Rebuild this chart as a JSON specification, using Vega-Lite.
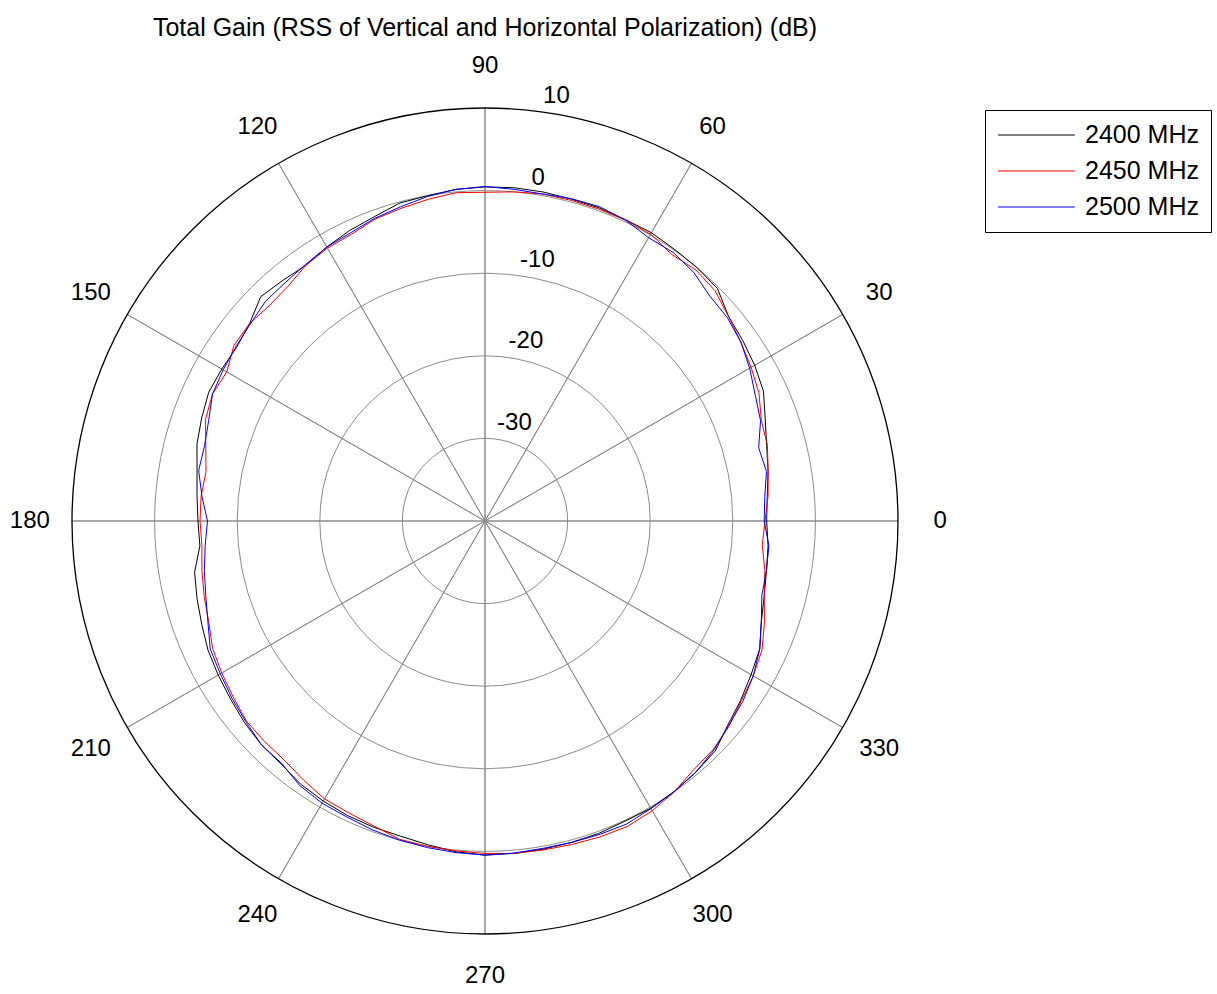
{
  "$schema": "https://vega.github.io/schema/vega-lite/v6.json",
  "width": 826,
  "height": 826,
  "autosize": {"type": "none"},
  "padding": {"left": 72, "top": 108, "right": 319, "bottom": 60},
  "background": "white",
  "config": {"font": "Liberation Sans", "view": {"stroke": null}},
  "title": {"text": "Total Gain (RSS of Vertical and Horizontal Polarization) (dB)", "font": "Liberation Sans", "fontSize": 25, "fontWeight": "normal", "color": "#000000", "anchor": "middle", "frame": "group", "baseline": "alphabetic", "offset": -7},
  "datasets": {
    "rings": [{"g": -30}, {"g": -20}, {"g": -10}, {"g": 0}],
    "outer": [{"g": 10}],
    "spokes": [{"a": 0}, {"a": 30}, {"a": 60}, {"a": 90}, {"a": 120}, {"a": 150}, {"a": 180}, {"a": 210}, {"a": 240}, {"a": 270}, {"a": 300}, {"a": 330}],
    "angleLabels": [{"a": 0, "t": "0"}, {"a": 30, "t": "30"}, {"a": 60, "t": "60"}, {"a": 90, "t": "90"}, {"a": 120, "t": "120"}, {"a": 150, "t": "150"}, {"a": 180, "t": "180"}, {"a": 210, "t": "210"}, {"a": 240, "t": "240"}, {"a": 270, "t": "270"}, {"a": 300, "t": "300"}, {"a": 330, "t": "330"}],
    "ringLabels": [{"g": -30, "t": "-30"}, {"g": -20, "t": "-20"}, {"g": -10, "t": "-10"}, {"g": 0, "t": "0"}, {"g": 10, "t": "10"}],
    "gain": [
      {"f": "2400 MHz", "a": 0, "g": -5.9}, {"f": "2400 MHz", "a": 5, "g": -5.7}, {"f": "2400 MHz", "a": 10, "g": -5.2}, {"f": "2400 MHz", "a": 15, "g": -4.7}, {"f": "2400 MHz", "a": 20, "g": -3.9}, {"f": "2400 MHz", "a": 25, "g": -2.8}, {"f": "2400 MHz", "a": 30, "g": -2.3}, {"f": "2400 MHz", "a": 35, "g": -1.9}, {"f": "2400 MHz", "a": 40, "g": -1.5}, {"f": "2400 MHz", "a": 45, "g": -0.2}, {"f": "2400 MHz", "a": 50, "g": 0.0}, {"f": "2400 MHz", "a": 55, "g": 0.1}, {"f": "2400 MHz", "a": 60, "g": 0.3}, {"f": "2400 MHz", "a": 65, "g": 0.25}, {"f": "2400 MHz", "a": 70, "g": 0.35}, {"f": "2400 MHz", "a": 75, "g": 0.35}, {"f": "2400 MHz", "a": 80, "g": 0.45}, {"f": "2400 MHz", "a": 85, "g": 0.5}, {"f": "2400 MHz", "a": 90, "g": 0.45}, {"f": "2400 MHz", "a": 95, "g": 0.3}, {"f": "2400 MHz", "a": 100, "g": 0.0}, {"f": "2400 MHz", "a": 105, "g": -0.15}, {"f": "2400 MHz", "a": 110, "g": -0.8}, {"f": "2400 MHz", "a": 115, "g": -1.2}, {"f": "2400 MHz", "a": 120, "g": -1.7}, {"f": "2400 MHz", "a": 125, "g": -2.2}, {"f": "2400 MHz", "a": 130, "g": -1.95}, {"f": "2400 MHz", "a": 135, "g": -1.6}, {"f": "2400 MHz", "a": 140, "g": -2.8}, {"f": "2400 MHz", "a": 145, "g": -3.3}, {"f": "2400 MHz", "a": 150, "g": -3.2}, {"f": "2400 MHz", "a": 155, "g": -3.1}, {"f": "2400 MHz", "a": 160, "g": -3.5}, {"f": "2400 MHz", "a": 165, "g": -3.9}, {"f": "2400 MHz", "a": 170, "g": -4.6}, {"f": "2400 MHz", "a": 175, "g": -5.0}, {"f": "2400 MHz", "a": 180, "g": -5.25}, {"f": "2400 MHz", "a": 185, "g": -5.35}, {"f": "2400 MHz", "a": 190, "g": -4.3}, {"f": "2400 MHz", "a": 195, "g": -3.9}, {"f": "2400 MHz", "a": 200, "g": -3.5}, {"f": "2400 MHz", "a": 205, "g": -3.0}, {"f": "2400 MHz", "a": 210, "g": -2.7}, {"f": "2400 MHz", "a": 215, "g": -2.4}, {"f": "2400 MHz", "a": 220, "g": -2.0}, {"f": "2400 MHz", "a": 225, "g": -1.7}, {"f": "2400 MHz", "a": 230, "g": -1.6}, {"f": "2400 MHz", "a": 235, "g": -1.1}, {"f": "2400 MHz", "a": 240, "g": -0.85}, {"f": "2400 MHz", "a": 245, "g": -0.65}, {"f": "2400 MHz", "a": 250, "g": -0.55}, {"f": "2400 MHz", "a": 255, "g": -0.5}, {"f": "2400 MHz", "a": 260, "g": -0.2}, {"f": "2400 MHz", "a": 265, "g": 0.2}, {"f": "2400 MHz", "a": 270, "g": 0.45}, {"f": "2400 MHz", "a": 275, "g": 0.4}, {"f": "2400 MHz", "a": 280, "g": 0.35}, {"f": "2400 MHz", "a": 285, "g": 0.3}, {"f": "2400 MHz", "a": 290, "g": 0.25}, {"f": "2400 MHz", "a": 295, "g": 0.1}, {"f": "2400 MHz", "a": 300, "g": 0.15}, {"f": "2400 MHz", "a": 305, "g": -0.05}, {"f": "2400 MHz", "a": 310, "g": -0.3}, {"f": "2400 MHz", "a": 315, "g": -0.6}, {"f": "2400 MHz", "a": 320, "g": -1.6}, {"f": "2400 MHz", "a": 325, "g": -2.2}, {"f": "2400 MHz", "a": 330, "g": -2.8}, {"f": "2400 MHz", "a": 335, "g": -3.3}, {"f": "2400 MHz", "a": 340, "g": -4.4}, {"f": "2400 MHz", "a": 345, "g": -5.0}, {"f": "2400 MHz", "a": 350, "g": -5.4}, {"f": "2400 MHz", "a": 355, "g": -5.6}, {"f": "2400 MHz", "a": 360, "g": -5.9},
      {"f": "2450 MHz", "a": 0, "g": -6.1}, {"f": "2450 MHz", "a": 5, "g": -5.6}, {"f": "2450 MHz", "a": 10, "g": -5.2}, {"f": "2450 MHz", "a": 15, "g": -4.6}, {"f": "2450 MHz", "a": 20, "g": -4.4}, {"f": "2450 MHz", "a": 25, "g": -3.4}, {"f": "2450 MHz", "a": 30, "g": -2.8}, {"f": "2450 MHz", "a": 35, "g": -2.2}, {"f": "2450 MHz", "a": 40, "g": -1.5}, {"f": "2450 MHz", "a": 45, "g": -0.6}, {"f": "2450 MHz", "a": 50, "g": -0.3}, {"f": "2450 MHz", "a": 55, "g": -0.6}, {"f": "2450 MHz", "a": 60, "g": 0.1}, {"f": "2450 MHz", "a": 65, "g": 0.2}, {"f": "2450 MHz", "a": 70, "g": 0.2}, {"f": "2450 MHz", "a": 75, "g": 0.2}, {"f": "2450 MHz", "a": 80, "g": 0.2}, {"f": "2450 MHz", "a": 85, "g": 0.0}, {"f": "2450 MHz", "a": 90, "g": -0.2}, {"f": "2450 MHz", "a": 95, "g": -0.1}, {"f": "2450 MHz", "a": 100, "g": -0.45}, {"f": "2450 MHz", "a": 105, "g": -0.8}, {"f": "2450 MHz", "a": 110, "g": -1.1}, {"f": "2450 MHz", "a": 115, "g": -1.7}, {"f": "2450 MHz", "a": 120, "g": -1.85}, {"f": "2450 MHz", "a": 125, "g": -2.2}, {"f": "2450 MHz", "a": 130, "g": -2.9}, {"f": "2450 MHz", "a": 135, "g": -3.1}, {"f": "2450 MHz", "a": 140, "g": -2.8}, {"f": "2450 MHz", "a": 145, "g": -2.9}, {"f": "2450 MHz", "a": 150, "g": -3.9}, {"f": "2450 MHz", "a": 155, "g": -3.6}, {"f": "2450 MHz", "a": 160, "g": -4.0}, {"f": "2450 MHz", "a": 165, "g": -5.0}, {"f": "2450 MHz", "a": 170, "g": -5.7}, {"f": "2450 MHz", "a": 175, "g": -5.5}, {"f": "2450 MHz", "a": 180, "g": -5.5}, {"f": "2450 MHz", "a": 185, "g": -5.6}, {"f": "2450 MHz", "a": 190, "g": -5.2}, {"f": "2450 MHz", "a": 195, "g": -4.8}, {"f": "2450 MHz", "a": 200, "g": -4.4}, {"f": "2450 MHz", "a": 205, "g": -3.6}, {"f": "2450 MHz", "a": 210, "g": -3.2}, {"f": "2450 MHz", "a": 215, "g": -2.8}, {"f": "2450 MHz", "a": 220, "g": -2.3}, {"f": "2450 MHz", "a": 225, "g": -2.25}, {"f": "2450 MHz", "a": 230, "g": -2.2}, {"f": "2450 MHz", "a": 235, "g": -1.7}, {"f": "2450 MHz", "a": 240, "g": -1.15}, {"f": "2450 MHz", "a": 245, "g": -1.0}, {"f": "2450 MHz", "a": 250, "g": -0.7}, {"f": "2450 MHz", "a": 255, "g": -0.1}, {"f": "2450 MHz", "a": 260, "g": 0.0}, {"f": "2450 MHz", "a": 265, "g": 0.1}, {"f": "2450 MHz", "a": 270, "g": 0.25}, {"f": "2450 MHz", "a": 275, "g": 0.4}, {"f": "2450 MHz", "a": 280, "g": 0.45}, {"f": "2450 MHz", "a": 285, "g": 0.55}, {"f": "2450 MHz", "a": 290, "g": 0.7}, {"f": "2450 MHz", "a": 295, "g": 0.8}, {"f": "2450 MHz", "a": 300, "g": 0.5}, {"f": "2450 MHz", "a": 305, "g": 0.0}, {"f": "2450 MHz", "a": 310, "g": -0.7}, {"f": "2450 MHz", "a": 315, "g": -0.9}, {"f": "2450 MHz", "a": 320, "g": -1.4}, {"f": "2450 MHz", "a": 325, "g": -2.1}, {"f": "2450 MHz", "a": 330, "g": -2.5}, {"f": "2450 MHz", "a": 335, "g": -3.0}, {"f": "2450 MHz", "a": 340, "g": -4.0}, {"f": "2450 MHz", "a": 345, "g": -5.0}, {"f": "2450 MHz", "a": 350, "g": -5.6}, {"f": "2450 MHz", "a": 355, "g": -6.3}, {"f": "2450 MHz", "a": 360, "g": -6.1},
      {"f": "2500 MHz", "a": 0, "g": -6.2}, {"f": "2500 MHz", "a": 5, "g": -6.0}, {"f": "2500 MHz", "a": 10, "g": -5.4}, {"f": "2500 MHz", "a": 15, "g": -5.7}, {"f": "2500 MHz", "a": 20, "g": -4.5}, {"f": "2500 MHz", "a": 25, "g": -3.9}, {"f": "2500 MHz", "a": 30, "g": -3.0}, {"f": "2500 MHz", "a": 35, "g": -2.2}, {"f": "2500 MHz", "a": 40, "g": -1.7}, {"f": "2500 MHz", "a": 45, "g": -1.5}, {"f": "2500 MHz", "a": 50, "g": -0.7}, {"f": "2500 MHz", "a": 55, "g": -0.3}, {"f": "2500 MHz", "a": 60, "g": -0.4}, {"f": "2500 MHz", "a": 65, "g": 0.2}, {"f": "2500 MHz", "a": 70, "g": 0.5}, {"f": "2500 MHz", "a": 75, "g": 0.4}, {"f": "2500 MHz", "a": 80, "g": 0.2}, {"f": "2500 MHz", "a": 85, "g": 0.3}, {"f": "2500 MHz", "a": 90, "g": 0.5}, {"f": "2500 MHz", "a": 95, "g": 0.3}, {"f": "2500 MHz", "a": 100, "g": -0.1}, {"f": "2500 MHz", "a": 105, "g": -0.6}, {"f": "2500 MHz", "a": 110, "g": -1.0}, {"f": "2500 MHz", "a": 115, "g": -1.5}, {"f": "2500 MHz", "a": 120, "g": -1.7}, {"f": "2500 MHz", "a": 125, "g": -2.1}, {"f": "2500 MHz", "a": 130, "g": -2.35}, {"f": "2500 MHz", "a": 135, "g": -2.4}, {"f": "2500 MHz", "a": 140, "g": -2.9}, {"f": "2500 MHz", "a": 145, "g": -3.2}, {"f": "2500 MHz", "a": 150, "g": -3.4}, {"f": "2500 MHz", "a": 155, "g": -3.6}, {"f": "2500 MHz", "a": 160, "g": -4.4}, {"f": "2500 MHz", "a": 165, "g": -4.85}, {"f": "2500 MHz", "a": 170, "g": -4.8}, {"f": "2500 MHz", "a": 175, "g": -5.6}, {"f": "2500 MHz", "a": 180, "g": -6.4}, {"f": "2500 MHz", "a": 185, "g": -6.0}, {"f": "2500 MHz", "a": 190, "g": -5.5}, {"f": "2500 MHz", "a": 195, "g": -5.0}, {"f": "2500 MHz", "a": 200, "g": -4.3}, {"f": "2500 MHz", "a": 205, "g": -3.3}, {"f": "2500 MHz", "a": 210, "g": -3.0}, {"f": "2500 MHz", "a": 215, "g": -2.6}, {"f": "2500 MHz", "a": 220, "g": -2.2}, {"f": "2500 MHz", "a": 225, "g": -1.7}, {"f": "2500 MHz", "a": 230, "g": -1.7}, {"f": "2500 MHz", "a": 235, "g": -0.9}, {"f": "2500 MHz", "a": 240, "g": -0.55}, {"f": "2500 MHz", "a": 245, "g": -0.45}, {"f": "2500 MHz", "a": 250, "g": -0.2}, {"f": "2500 MHz", "a": 255, "g": 0.0}, {"f": "2500 MHz", "a": 260, "g": 0.15}, {"f": "2500 MHz", "a": 265, "g": 0.3}, {"f": "2500 MHz", "a": 270, "g": 0.45}, {"f": "2500 MHz", "a": 275, "g": 0.35}, {"f": "2500 MHz", "a": 280, "g": 0.25}, {"f": "2500 MHz", "a": 285, "g": 0.3}, {"f": "2500 MHz", "a": 290, "g": 0.4}, {"f": "2500 MHz", "a": 295, "g": 0.5}, {"f": "2500 MHz", "a": 300, "g": 0.2}, {"f": "2500 MHz", "a": 305, "g": 0.0}, {"f": "2500 MHz", "a": 310, "g": -0.3}, {"f": "2500 MHz", "a": 315, "g": -0.8}, {"f": "2500 MHz", "a": 320, "g": -1.5}, {"f": "2500 MHz", "a": 325, "g": -1.9}, {"f": "2500 MHz", "a": 330, "g": -2.5}, {"f": "2500 MHz", "a": 335, "g": -3.3}, {"f": "2500 MHz", "a": 340, "g": -4.4}, {"f": "2500 MHz", "a": 345, "g": -5.3}, {"f": "2500 MHz", "a": 350, "g": -5.4}, {"f": "2500 MHz", "a": 355, "g": -5.5}, {"f": "2500 MHz", "a": 360, "g": -6.2}
    ]
  },
  "layer": [
    {
      "data": {"name": "rings"},
      "mark": {"type": "arc", "filled": false, "fill": "transparent", "stroke": "#8c8c8c", "strokeWidth": 1, "theta": 0, "theta2": 6.3, "radius2": 0},
      "encoding": {
        "radius": {"field": "g", "type": "quantitative", "stack": null, "scale": {"type": "linear", "domain": [-40, 10], "range": [0, 413], "zero": false, "nice": false}}
      }
    },
    {
      "data": {"name": "spokes"},
      "mark": {"type": "arc", "filled": false, "fill": "transparent", "stroke": "#8c8c8c", "strokeWidth": 1, "radius2": 0},
      "encoding": {
        "theta": {"field": "a", "type": "quantitative", "stack": null, "scale": {"type": "linear", "domain": [0, 360], "range": [1.5707963, -4.712389], "zero": false, "nice": false}},
        "theta2": {"field": "a"},
        "radius": {"datum": 10, "type": "quantitative", "scale": {"type": "linear", "domain": [-40, 10], "range": [0, 413], "zero": false, "nice": false}}
      }
    },
    {
      "data": {"name": "outer"},
      "mark": {"type": "arc", "filled": false, "fill": "transparent", "stroke": "#000000", "strokeWidth": 1.3, "theta": 0, "theta2": 6.3, "radius2": 0},
      "encoding": {
        "radius": {"field": "g", "type": "quantitative", "stack": null, "scale": {"type": "linear", "domain": [-40, 10], "range": [0, 413], "zero": false, "nice": false}}
      }
    },
    {
      "data": {"name": "gain"},
      "transform": [
        {"calculate": "(datum.g + 40) * cos(datum.a * PI / 180)", "as": "px"},
        {"calculate": "(datum.g + 40) * sin(datum.a * PI / 180)", "as": "py"}
      ],
      "mark": {"type": "line", "strokeWidth": 1, "interpolate": "linear"},
      "encoding": {
        "x": {"field": "px", "type": "quantitative", "scale": {"domain": [-50, 50], "nice": false, "zero": false}, "axis": null},
        "y": {"field": "py", "type": "quantitative", "scale": {"domain": [-50, 50], "nice": false, "zero": false}, "axis": null},
        "order": {"field": "a", "type": "quantitative"},
        "color": {
          "field": "f", "type": "nominal",
          "scale": {"domain": ["2400 MHz", "2450 MHz", "2500 MHz"], "range": ["#000000", "#ff0000", "#0000ff"]},
          "legend": {
            "orient": "none", "legendX": 913, "legendY": 2, "direction": "vertical", "title": null,
            "symbolType": "M-1,0H5.4", "symbolSize": 576, "symbolStrokeWidth": 1.2, "symbolFillColor": "transparent",
            "labelFont": "Liberation Sans", "labelFontSize": 25, "labelColor": "#000000", "labelOffset": 62, "labelLimit": 400,
            "strokeColor": "#000000", "fillColor": "#ffffff", "padding": 12, "rowPadding": 10
          }
        }
      }
    },
    {
      "data": {"name": "angleLabels"},
      "mark": {"type": "text", "fontSize": 24, "font": "Liberation Sans", "align": "center", "baseline": "middle", "color": "#000000"},
      "encoding": {
        "theta": {"field": "a", "type": "quantitative", "stack": null, "scale": {"type": "linear", "domain": [0, 360], "range": [1.5707963, -4.712389], "zero": false, "nice": false}},
        "radius": {"datum": 15.1, "type": "quantitative", "scale": {"type": "linear", "domain": [-40, 10], "range": [0, 413], "zero": false, "nice": false}},
        "text": {"field": "t", "type": "nominal"}
      }
    },
    {
      "data": {"name": "ringLabels"},
      "mark": {"type": "text", "fontSize": 24, "font": "Liberation Sans", "align": "left", "baseline": "bottom", "color": "#000000", "radiusOffset": 4},
      "encoding": {
        "theta": {"datum": 82, "type": "quantitative", "scale": {"type": "linear", "domain": [0, 360], "range": [1.5707963, -4.712389], "zero": false, "nice": false}},
        "radius": {"field": "g", "type": "quantitative", "stack": null, "scale": {"type": "linear", "domain": [-40, 10], "range": [0, 413], "zero": false, "nice": false}},
        "text": {"field": "t", "type": "nominal"}
      }
    }
  ]
}
